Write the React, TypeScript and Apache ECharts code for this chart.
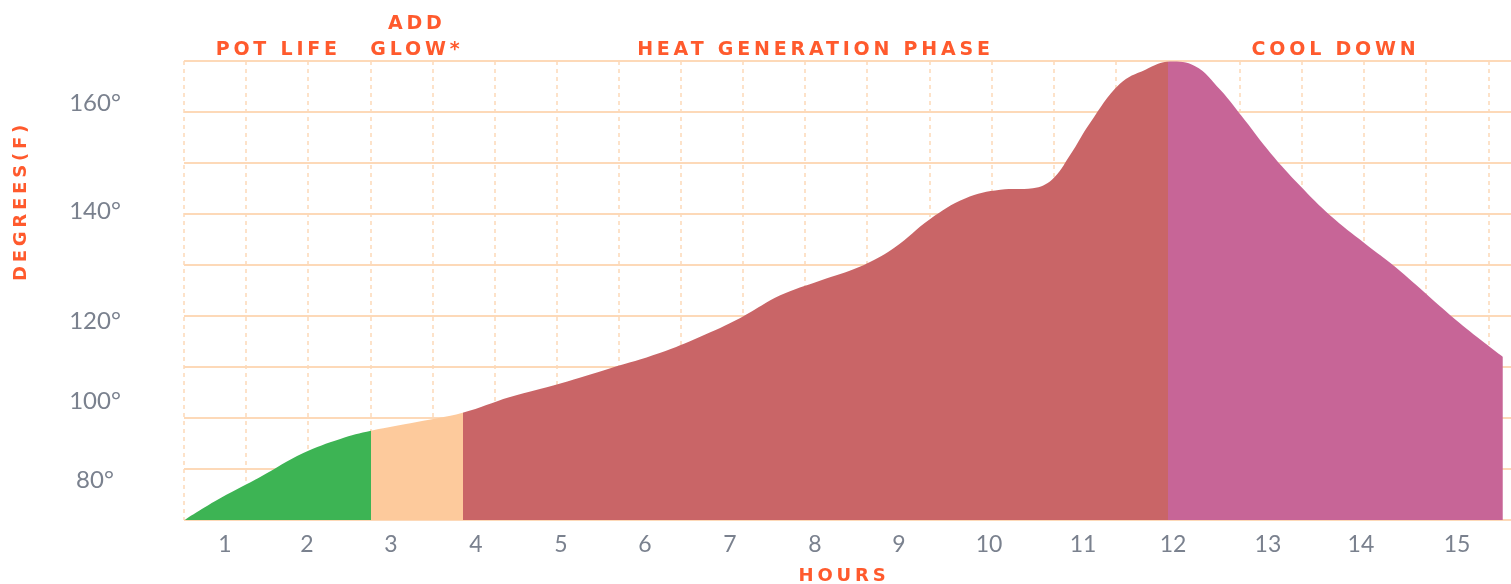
import React, { useEffect, useRef } from 'react';
import * as echarts from 'echarts';

// ---- data (hours after mixing, temperature in °F) ----
const hours = [0.55, 0.89, 1.40, 1.89, 2.31, 2.66, 3.18, 3.70, 4.24, 4.81, 5.38, 5.94, 6.40, 6.85, 7.31, 7.76, 8.22, 8.61, 9.01, 9.41, 9.81, 10.18, 10.40, 10.60, 10.83, 11.17, 11.46, 11.74, 12.02, 12.31, 12.59, 12.88, 13.22, 13.56, 13.95, 14.30, 15.03, 15.52];
const temps = [83.1, 86.5, 90.9, 95.3, 97.9, 99.4, 101.0, 102.7, 105.6, 108.1, 110.9, 113.7, 116.7, 120.1, 124.3, 127.0, 129.6, 133.1, 138.3, 142.1, 143.7, 144.0, 145.6, 150.0, 156.0, 163.2, 165.8, 167.3, 166.5, 162.1, 156.5, 150.5, 144.4, 139.0, 133.9, 129.5, 119.2, 113.0];

const phaseNames = ['POT LIFE', 'ADD\nGLOW*', 'HEAT GENERATION PHASE', 'COOL DOWN'];
const phaseBounds = [2.66, 3.70, 11.72]; // hour where each phase ends
const xTickLabels = ['1', '2', '3', '4', '5', '6', '7', '8', '9', '10', '11', '12', '13', '14', '15'];
const yTickLabels = ['80°', '100°', '120°', '140°', '160°'];
const xAxisName = 'HOURS';
const yAxisName = 'DEGREES(F)';

// ---- layout / style ----
const phaseColors = ['#3db454', '#fdca9c', '#c96567', '#c76597'];
const X_MIN = 0.534;
const X_MAX = 15.614;
const Y_MIN = 82.99;
const Y_MAX = 167.4;
const xTickAt = [1.0, 1.932, 2.886, 3.852, 4.818, 5.773, 6.739, 7.705, 8.659, 9.682, 10.75, 11.773, 12.852, 13.909, 15.0];
const yTickAt = [90.7, 105.1, 119.9, 140.0, 159.9];
const ACCENT = '#ff5a2d';
const GREY = '#7a818e';
const GRID_COLOR = '#fdd9b8';

export default function App() {
  const ref = useRef<HTMLDivElement>(null);

  useEffect(() => {
    if (!ref.current) return;
    const chart = echarts.init(ref.current, undefined, { renderer: 'svg' });
    const starts = [hours[0], ...phaseBounds];
    const ends = [...phaseBounds, hours[hours.length - 1]];

    chart.setOption({
      animation: false,
      grid: { left: 184, right: 0, top: 61, bottom: 64, containLabel: false },
      xAxis: [
        {
          type: 'value',
          min: X_MIN,
          max: X_MAX,
          axisLine: { show: false },
          axisTick: { show: false },
          splitLine: { show: false },
          axisLabel: {
            customValues: xTickAt,
            formatter: (v: number) => {
              const i = xTickAt.findIndex((p) => Math.abs(p - v) < 1e-6);
              return i >= 0 ? xTickLabels[i] : '';
            },
            color: GREY,
            fontFamily: 'Lato',
            fontWeight: 400,
            fontSize: 23,
            margin: 11,
          },
        },
        {
          type: 'value',
          min: 0,
          max: 21.365,
          interval: 1,
          position: 'bottom',
          axisLine: { show: false },
          axisTick: { show: false },
          axisLabel: { show: false },
          splitLine: {
            show: true,
            showMaxLine: false,
            lineStyle: { color: GRID_COLOR, type: [4, 4], width: 1.5 },
          },
        },
      ],
      yAxis: [
        {
          type: 'value',
          min: Y_MIN,
          max: Y_MAX,
          axisLine: { show: false },
          axisTick: { show: false },
          splitLine: { show: false },
          axisLabel: {
            customValues: yTickAt,
            formatter: (v: number) => {
              const i = yTickAt.findIndex((p) => Math.abs(p - v) < 1e-6);
              return i >= 0 ? yTickLabels[i] : '';
            },
            color: GREY,
            fontFamily: 'Lato',
            fontWeight: 400,
            fontSize: 24,
            align: 'center',
            margin: 89,
          },
        },
        {
          type: 'value',
          min: 0,
          max: 9,
          interval: 1,
          axisLine: { show: false },
          axisTick: { show: false },
          axisLabel: { show: false },
          splitLine: { show: true, lineStyle: { color: GRID_COLOR, width: 1.8 } },
        },
      ],
      visualMap: {
        show: false,
        type: 'piecewise',
        dimension: 0,
        seriesIndex: 0,
        pieces: [
          { lt: phaseBounds[0], color: phaseColors[0] },
          { gte: phaseBounds[0], lt: phaseBounds[1], color: phaseColors[1] },
          { gte: phaseBounds[1], lt: phaseBounds[2], color: phaseColors[2] },
          { gte: phaseBounds[2], color: phaseColors[3] },
        ],
      },
      series: [
        {
          type: 'line',
          xAxisIndex: 0,
          yAxisIndex: 0,
          data: hours.map((h, i) => [h, temps[i]]),
          smooth: 0.4,
          symbol: 'none',
          lineStyle: { width: 0 },
          areaStyle: { opacity: 1, origin: 'start' },
          markArea: {
            silent: true,
            itemStyle: { color: 'transparent' },
            label: {
              show: true,
              position: 'top',
              distance: 0,
              color: ACCENT,
              fontFamily: 'DejaVu Sans',
              fontWeight: 'bold',
              fontSize: 19,
              lineHeight: 26,
            },
            data: phaseNames.map((name, i) => [
              { name, xAxis: starts[i] },
              { xAxis: ends[i] },
            ]),
          },
        },
      ],
      graphic: [
        {
          type: 'text',
          x: 19,
          y: 201,
          rotation: Math.PI / 2,
          style: {
            text: yAxisName,
            fill: ACCENT,
            fontFamily: 'DejaVu Sans',
            fontWeight: 'bold',
            fontSize: 18,
            align: 'center',
            verticalAlign: 'middle',
          },
        },
        {
          type: 'text',
          x: 844,
          y: 574,
          style: {
            text: xAxisName,
            fill: ACCENT,
            fontFamily: 'DejaVu Sans',
            fontWeight: 'bold',
            fontSize: 18,
            align: 'center',
            verticalAlign: 'middle',
          },
        },
      ],
    });
    return () => chart.dispose();
  }, []);

  return (
    <>
      <style>{`svg text[fill="${ACCENT}"]{letter-spacing:3.8px;}`}</style>
      <div ref={ref} style={{ position: 'fixed', left: 0, top: 0, width: 1511, height: 584 }} />
    </>
  );
}
